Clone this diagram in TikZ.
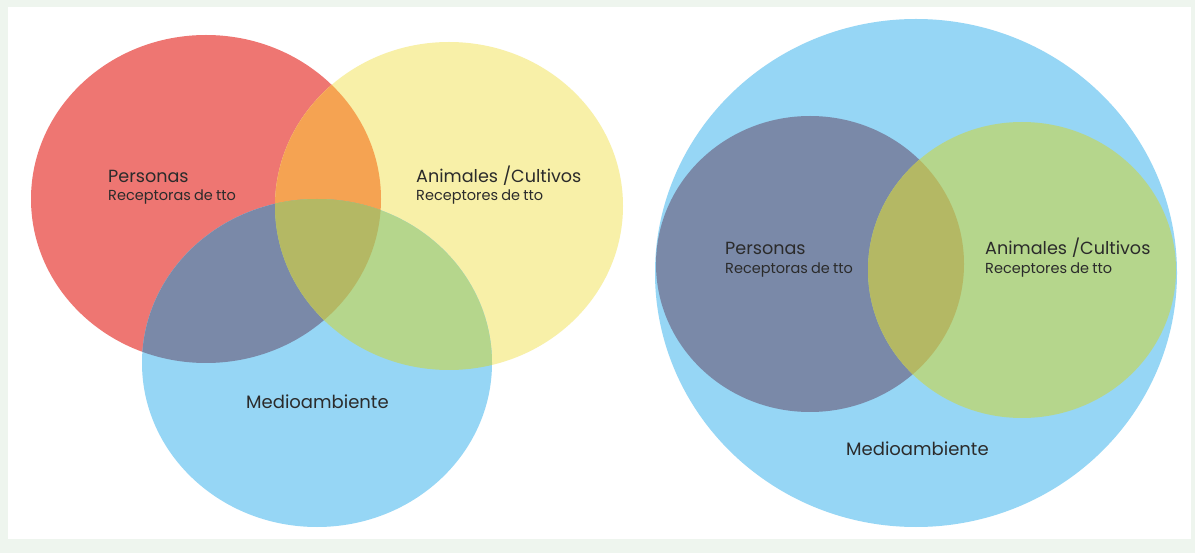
\documentclass[tikz,border=0pt]{standalone}
\usepackage{fontspec}
\setmainfont{Poppins}
\usepackage{xcolor}
\definecolor{marco}{HTML}{EEF5EE}
\definecolor{vrojo}{HTML}{EE7672}
\definecolor{vamarillo}{HTML}{F8F0A8}
\definecolor{vazul}{HTML}{96D6F5}
\definecolor{vnaranja}{HTML}{F5A352}
\definecolor{vpizarra}{HTML}{7A89A8}
\definecolor{vverde}{HTML}{B5D68C}
\definecolor{voliva}{HTML}{B4B864}
\definecolor{vtexto}{HTML}{2B2B2B}
\usetikzlibrary{positioning}
\newcommand{\apretado}{\fontsize{14.5}{16}\selectfont\spaceskip=0.22em plus 0.1em\relax}

% contornos de los conjuntos
\def\personasL{(206,199) ellipse [x radius=175, y radius=164]}
\def\animalesL{(449,206) ellipse [x radius=174, y radius=164]}
\def\medioL{(317,363) ellipse [x radius=175, y radius=164]}
\def\medioR{(916,273) ellipse [x radius=261, y radius=254]}
\def\personasR{(810,264) ellipse [x radius=154, y radius=148]}
\def\animalesR{(1022,270) ellipse [x radius=154, y radius=148]}

\begin{document}
\begin{tikzpicture}[x=1pt,y=-1pt,
  titulo/.style={anchor=base west,inner sep=0pt,text=vtexto,
    font=\fontsize{17.6}{20}\selectfont},
  subtitulo/.style={anchor=base west,inner sep=0pt,text=vtexto,
    font=\apretado}]
\fill[marco] (0,0) rectangle (1195,553);
\fill[white] (8,7) rectangle (1191,539);

% diagrama de tres conjuntos
\fill[vrojo] \personasL;
\fill[vamarillo] \animalesL;
\fill[vazul] \medioL;
\begin{scope}
  \clip \personasL;
  \fill[vnaranja] \animalesL;
  \fill[vpizarra] \medioL;
\end{scope}
\begin{scope}
  \clip \animalesL;
  \fill[vverde] \medioL;
  \clip \medioL;
  \fill[voliva] \personasL;
\end{scope}

% diagrama de conjuntos anidados
\fill[vazul] \medioR;
\fill[vpizarra] \personasR;
\fill[vverde] \animalesR;
\begin{scope}
  \clip \personasR;
  \fill[voliva] \animalesR;
\end{scope}

% rotulos
\node[titulo] (persL) at (108,183) {Personas};
\node[subtitulo] (persLsub) at ([yshift=-18pt]persL.base west) {Receptoras de tto};
\node[titulo] (animL) at (416,183) {Animales /Cultivos};
\node[subtitulo] (animLsub) at ([yshift=-18pt]animL.base west) {Receptores de tto};
\node[titulo,font=\fontsize{18}{20}\selectfont] (medL) at (246,409) {Medioambiente};

\node[titulo] (persR) at (725,255) {Personas};
\node[subtitulo] (persRsub) at ([yshift=-19pt]persR.base west) {Receptoras de tto};
\node[titulo] (animR) at (985,255) {Animales /Cultivos};
\node[subtitulo] (animRsub) at ([yshift=-19pt]animR.base west) {Receptores de tto};
\node[titulo,font=\fontsize{18}{20}\selectfont] (medR) at (846,455) {Medioambiente};
\end{tikzpicture}
\end{document}
